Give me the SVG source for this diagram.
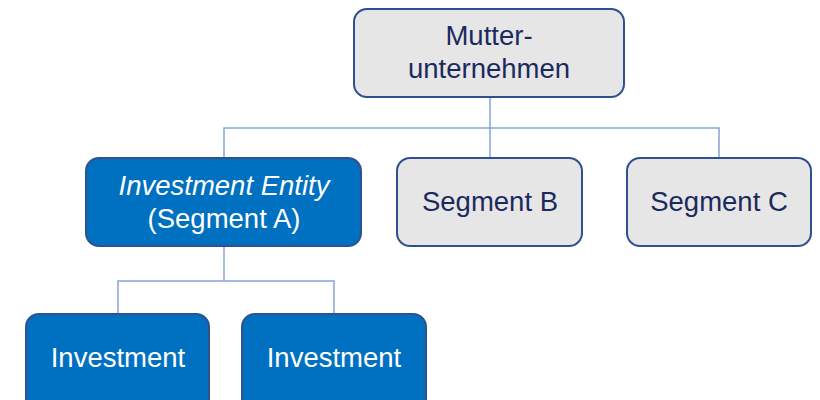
<svg xmlns="http://www.w3.org/2000/svg" width="820" height="400" viewBox="0 0 820 400">
<style>
.gray{fill:#E6E6E6;stroke:#2F4F8F;stroke-width:2}
.blue{fill:#0070C0;stroke:#2F528F;stroke-width:2}
.tg{font-family:"Liberation Sans",Arial,sans-serif;font-size:27.5px;fill:#1B2A5E;text-anchor:middle}
.tw{font-family:"Liberation Sans",Arial,sans-serif;font-size:27.5px;fill:#FFFFFF;text-anchor:middle}
.conn{fill:none;stroke:#86A4DA;stroke-width:1.5}
</style>
<rect width="820" height="400" fill="#FFFFFF"/>
<g id="connectors">
<path class="conn" d="M490 97V158"/>
<path class="conn" d="M224 157V128H719V158"/>
<path class="conn" d="M224 246V281"/>
<path class="conn" d="M118 314V281H334V314"/>
</g>
<g id="mutter">
<rect class="gray" x="354" y="9" width="270" height="88" rx="13"/>
<text class="tg" x="489" y="45">Mutter-</text>
<text class="tg" x="489" y="78">unternehmen</text>
</g>
<g id="segmentA">
<rect class="blue" x="86" y="158" width="275" height="88" rx="13"/>
<text class="tw" x="224" y="195" font-style="italic">Investment Entity</text>
<text class="tw" x="224" y="228">(Segment A)</text>
</g>
<g id="segmentB">
<rect class="gray" x="397" y="158" width="185" height="88" rx="13"/>
<text class="tg" x="490" y="211">Segment B</text>
</g>
<g id="segmentC">
<rect class="gray" x="627" y="158" width="184" height="88" rx="13"/>
<text class="tg" x="719" y="211">Segment C</text>
</g>
<g id="investment1">
<rect class="blue" x="26" y="314" width="183" height="100" rx="13"/>
<text class="tw" x="118" y="367">Investment</text>
</g>
<g id="investment2">
<rect class="blue" x="242" y="314" width="184" height="100" rx="13"/>
<text class="tw" x="334" y="367">Investment</text>
</g>
</svg>
